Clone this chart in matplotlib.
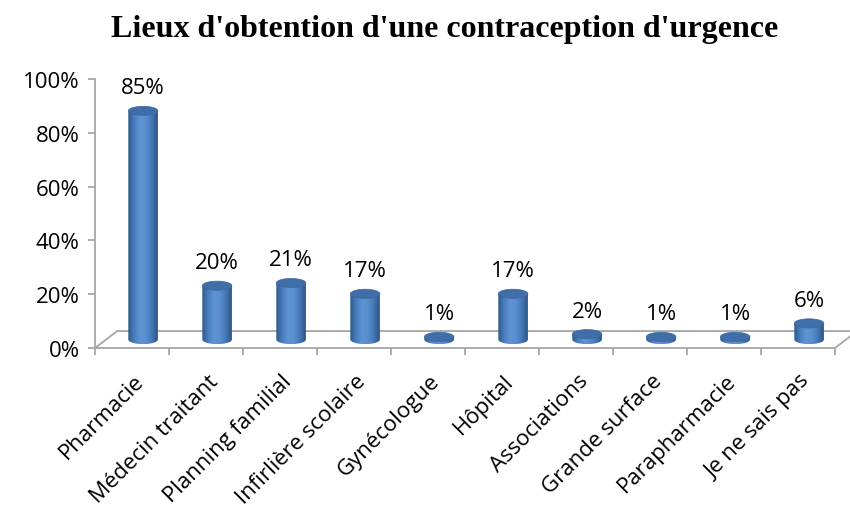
import numpy as np
import matplotlib
matplotlib.use("Agg")
import matplotlib.pyplot as plt
from matplotlib.patches import Ellipse, PathPatch, Polygon
from matplotlib.path import Path
from matplotlib.colors import LinearSegmentedColormap

# Survey results: where emergency contraception can be obtained
lieux = ["Pharmacie", "Médecin traitant", "Planning familial", "Infirlière scolaire",
         "Gynécologue", "Hôpital", "Associations", "Grande surface",
         "Parapharmacie", "Je ne sais pas"]
pourcentages = [85, 20, 21, 17, 1, 17, 2, 1, 1, 6]
yticks = [0, 20, 40, 60, 80, 100]

plt.rcParams["font.family"] = ["Open Sans", "DejaVu Sans"]

fig = plt.figure(figsize=(8.5, 5.1), dpi=100)
ax = fig.add_axes([95 / 850, (510 - 349) / 510, 740 / 850, 269 / 510])
ax.set_xlim(-0.5, len(lieux) - 0.5)
ax.set_ylim(0, 100)

grey = "#a6a6a6"
# depth of the floor (data units)
dx, dy = 0.3, 6.3
r = 0.2          # cylinder half-width
eh = 3.4         # ellipse height

# floor parallelogram
n = len(lieux)
floor = Polygon([(-0.5, 0), (n - 0.5, 0), (n - 0.5 + dx, dy), (-0.5 + dx, dy)],
                closed=True, fill=False, edgecolor=grey, lw=1.3, clip_on=False)
ax.add_patch(floor)

cmap = LinearSegmentedColormap.from_list(
    "cyl", ["#2d5a8c", "#4a7dbd", "#5e93d4", "#5a8ecf", "#4677b5", "#2b5586"])
grad = np.linspace(0, 1, 64).reshape(1, -1)

for i, v in enumerate(pourcentages):
    cx = i + dx / 2
    y0 = dy / 2
    y1 = y0 + v
    t = np.linspace(np.pi, 2 * np.pi, 40)
    arc = np.column_stack([cx + r * np.cos(t), y0 + eh / 2 * np.sin(t)])
    verts = [(cx - r, y1)] + arc.tolist() + [(cx + r, y1), (cx - r, y1)]
    codes = [Path.MOVETO] + [Path.LINETO] * (len(verts) - 2) + [Path.CLOSEPOLY]
    body = PathPatch(Path(verts, codes), facecolor="none", edgecolor="none", clip_on=False)
    ax.add_patch(body)
    im = ax.imshow(grad, cmap=cmap, aspect="auto", interpolation="bicubic",
                   extent=(cx - r, cx + r, y0 - eh / 2, y1), zorder=2)
    im.set_clip_path(body)
    im.set_clip_on(True)
    top = Ellipse((cx, y1), 2 * r, eh, facecolor="#3f6ea8", edgecolor="#3a67a0",
                  lw=0.5, zorder=3, clip_on=False)
    ax.add_patch(top)
    ax.text(cx, y1 + eh / 2 + 3.0, f"{v}%", ha="center", va="bottom", fontsize=16)

ax.set_xlim(-0.5, n - 0.5)
ax.set_ylim(0, 100)

for s in ["top", "right", "bottom"]:
    ax.spines[s].set_visible(False)
ax.spines["left"].set_color(grey)
ax.spines["left"].set_linewidth(1.3)

ax.set_yticks(yticks)
ax.set_yticklabels([f"{t}%" for t in yticks], fontsize=16)
ax.tick_params(axis="y", colors=grey, labelcolor="black", length=5, width=1.3, pad=6)

# category ticks sit on the category boundaries
ax.set_xticks(np.arange(-0.5, n, 1.0))
ax.set_xticklabels([])
ax.tick_params(axis="x", colors=grey, length=5, width=1.3)

for i, lab in enumerate(lieux):
    ax.annotate(lab, xy=(i, 0), xytext=(1, -16), textcoords="offset points",
                rotation=45, ha="right", va="top", rotation_mode="anchor",
                fontsize=16)

fig.text(445 / 850, 1 - 30 / 510, "Lieux d'obtention d'une contraception d'urgence",
         ha="center", va="center", fontsize=23, fontweight="bold",
         family="Liberation Serif")

fig.savefig("out.png", dpi=100)
